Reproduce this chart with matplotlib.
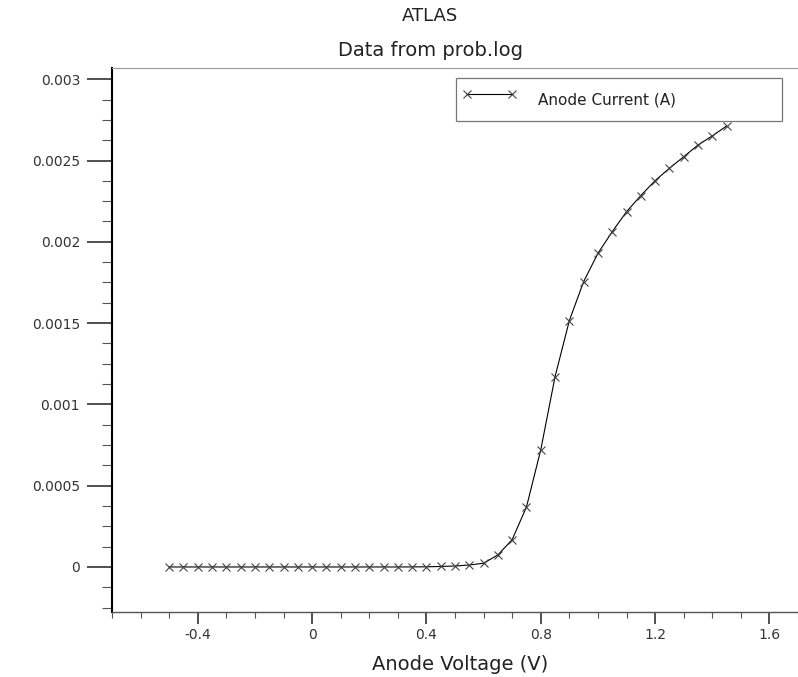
import matplotlib
matplotlib.use("Agg")
import matplotlib.pyplot as plt
from matplotlib.ticker import FixedLocator, FixedFormatter, MultipleLocator

plt.rcParams['font.family'] = ['DejaVu Sans']

# ---- data ----
voltages = [-0.5, -0.45, -0.4, -0.35, -0.3, -0.25, -0.2, -0.15, -0.1, -0.05,
            0.0, 0.05, 0.1, 0.15, 0.2, 0.25, 0.3, 0.35, 0.4, 0.45,
            0.5, 0.55, 0.6, 0.65, 0.7, 0.75, 0.8, 0.85, 0.9, 0.95,
            1.0, 1.05, 1.1, 1.15, 1.2, 1.25, 1.3, 1.35, 1.4, 1.45]
currents = [0.0, 0.0, 0.0, 0.0, 0.0, 0.0, 0.0, 0.0, 0.0, 0.0,
            0.0, 0.0, 0.0, 0.0, 0.0, 0.0, 0.0, 0.3e-6, 1.0e-6, 3.0e-6,
            6.0e-6, 12e-6, 23e-6, 74e-6, 168e-6, 369e-6, 720e-6, 1170e-6, 1515e-6, 1755e-6,
            1929e-6, 2062e-6, 2185e-6, 2284e-6, 2376e-6, 2452e-6, 2523e-6, 2595e-6, 2651e-6, 2712e-6]

x_ticks = [-0.4, 0.0, 0.4, 0.8, 1.2, 1.6]
x_tick_labels = ['-0.4', '0', '0.4', '0.8', '1.2', '1.6']
y_ticks = [0.0, 0.0005, 0.001, 0.0015, 0.002, 0.0025, 0.003]
y_tick_labels = ['0', '0.0005', '0.001', '0.0015', '0.002', '0.0025', '0.003']

series_label = 'Anode Current (A)'
title_main = 'ATLAS'
title_sub = 'Data from prob.log'
x_label = 'Anode Voltage (V)'

# ---- figure ----
W, H = 798, 677
fig = plt.figure(figsize=(W / 100, H / 100), dpi=100)
ax = fig.add_axes([112 / W, 65 / H, 686 / W, 544 / H])

ax.plot(voltages, currents, color='black', linewidth=0.8,
        marker='x', markersize=6, markeredgewidth=0.8,
        markeredgecolor='#444444', label=series_label)

ax.set_xlim(-0.7, 1.7)
ax.set_ylim(-0.000277, 0.003069)

ax.xaxis.set_major_locator(FixedLocator(x_ticks))
ax.xaxis.set_major_formatter(FixedFormatter(x_tick_labels))
ax.xaxis.set_minor_locator(MultipleLocator(0.1))
ax.yaxis.set_major_locator(FixedLocator(y_ticks))
ax.yaxis.set_major_formatter(FixedFormatter(y_tick_labels))
ax.yaxis.set_minor_locator(MultipleLocator(0.000125))

ax.tick_params(axis='y', which='major', length=18, width=1.2, direction='out',
               pad=5, colors='#333333', labelsize=10)
ax.tick_params(axis='y', which='minor', length=7.5, width=0.8, direction='out',
               color='#555555')
ax.tick_params(axis='x', which='major', length=8.5, width=1.2, direction='out',
               pad=3, colors='#333333', labelsize=10)
ax.tick_params(axis='x', which='minor', length=4, width=0.8, direction='out',
               color='#555555')

ax.spines['left'].set_color('black')
ax.spines['left'].set_linewidth(1.5)
ax.spines['bottom'].set_color('#555555')
ax.spines['bottom'].set_linewidth(1.0)
ax.spines['top'].set_color('#999999')
ax.spines['top'].set_linewidth(0.8)
ax.spines['right'].set_visible(False)

ax.set_xlabel(x_label, fontsize=14, color='#222222')
ax.xaxis.set_label_coords((460 - 112) / 686, (612 - 665) / 544)
ax.xaxis.label.set_va('center')

fig.text(430 / W, 1 - 16 / H, title_main, ha='center', va='center',
         fontsize=13, color='#222222')
fig.text(430 / W, 1 - 50 / H, title_sub, ha='center', va='center',
         fontsize=14, color='#222222')

fs_px = 11 * 100 / 72
leg = ax.legend(loc='upper left',
                bbox_to_anchor=(456 / W, 1 - 122 / H, 326 / W, 44 / H),
                bbox_transform=fig.transFigure, mode='expand',
                borderaxespad=0, fontsize=11, numpoints=2,
                borderpad=6 / fs_px, handlelength=55 / fs_px,
                handletextpad=21 / fs_px, handleheight=42 / fs_px,
                fancybox=False, framealpha=1, edgecolor='#777777')
leg.get_frame().set_linewidth(0.9)
for t in leg.get_texts():
    t.set_color('#222222')

fig.savefig('out.png', dpi=100)
